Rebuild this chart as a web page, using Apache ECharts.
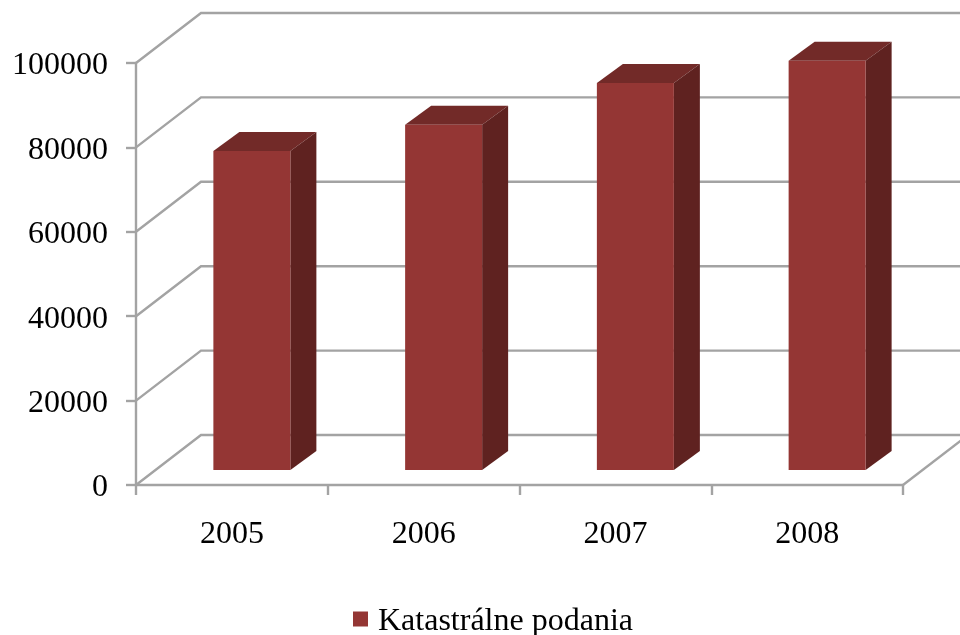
<!DOCTYPE html>
<html><head><meta charset="utf-8"><style>html,body{margin:0;padding:0;background:#fff}#c{width:960px;height:635px}</style>
<script src="https://cdn.jsdelivr.net/npm/echarts@6/dist/echarts.min.js"></script></head>
<body><div id="c"></div><script>
const categories = ['2005','2006','2007','2008'];
const seriesName = 'Katastrálne podania';
const values = [75600, 81800, 91700, 97000];
const yTicks = [0,20000,40000,60000,80000,100000];
const chart = echarts.init(document.getElementById('c'),null,{renderer:'canvas'});
const line='#a3a3a3', font='"Liberation Serif"', lw=2.4;
const wall={dx:65,dy:-50}, front={dx:20,dy:-15}, depth={dx:26,dy:-19}, barW=77;
chart.setOption({
 animation:false,backgroundColor:'#fff',
 grid:{left:136,width:767,top:63,height:422},
 legend:{data:[seriesName],top:601,left:348,icon:'rect',itemWidth:15,itemHeight:15,itemGap:11,selectedMode:false,
  formatter:n=>'{a|'+n+'}',
  textStyle:{fontFamily:font,fontSize:32,color:'#000',rich:{a:{fontFamily:font,fontSize:32,color:'#000',padding:[6,0,0,5]}}}},
 xAxis:{type:'category',data:categories,boundaryGap:true,
  axisLine:{lineStyle:{color:line,width:lw}},axisTick:{show:true,length:10,lineStyle:{color:line,width:lw}},
  axisLabel:{fontFamily:font,fontSize:32,color:'#000',margin:34},splitLine:{show:false}},
 yAxis:{type:'value',min:0,max:100000,interval:20000,
  axisLine:{show:true,lineStyle:{color:line,width:lw}},axisTick:{show:true,length:10,lineStyle:{color:line,width:lw}},
  axisLabel:{fontFamily:font,fontSize:32,color:'#000',margin:28,formatter:v=>'{a|'+v+'}',
   rich:{a:{fontFamily:font,fontSize:32,color:'#000',padding:[6,0,0,0]}}},splitLine:{show:false}},
 series:[
 {type:'custom',silent:true,clip:false,z:1,legendHoverLink:false,
  data:yTicks.map(t=>[0,t]),
  renderItem(p,api){
   const y=api.coord([0,api.value(1)])[1], cs=p.coordSys, x0=cs.x, x1=cs.x+cs.width;
   const ch=[{type:'polyline',shape:{points:[[x0,y],[x0+wall.dx,y+wall.dy],[x1+wall.dx,y+wall.dy]]},style:{stroke:line,lineWidth:lw,fill:null}}];
   if(api.value(1)===0) ch.push({type:'line',shape:{x1:x1,y1:y,x2:x1+wall.dx,y2:y+wall.dy},style:{stroke:line,lineWidth:lw}});
   return {type:'group',children:ch};
  }},
 {name:seriesName,type:'custom',clip:false,z:3,itemStyle:{color:'#943634'},
  data:values.map((v,i)=>[i,v]),
  renderItem(p,api){
   const c=api.coord([api.value(0),api.value(1)]), b=api.coord([api.value(0),0]);
   const xl=c[0]+front.dx-barW/2, xr=xl+barW, yt=c[1]+front.dy, yb=b[1]+front.dy, dx=depth.dx, dy=depth.dy;
   return {type:'group',children:[
    {type:'polygon',shape:{points:[[xl,yt],[xr,yt],[xr+dx,yt+dy],[xl+dx,yt+dy]]},style:{fill:'#722a28'}},
    {type:'polygon',shape:{points:[[xr,yt],[xr+dx,yt+dy],[xr+dx,yb+dy],[xr,yb]]},style:{fill:'#5f2220'}},
    {type:'rect',shape:{x:xl,y:yt,width:barW,height:yb-yt},style:{fill:'#943634'}}
   ]};
  }}
 ]
});
</script></body></html>
